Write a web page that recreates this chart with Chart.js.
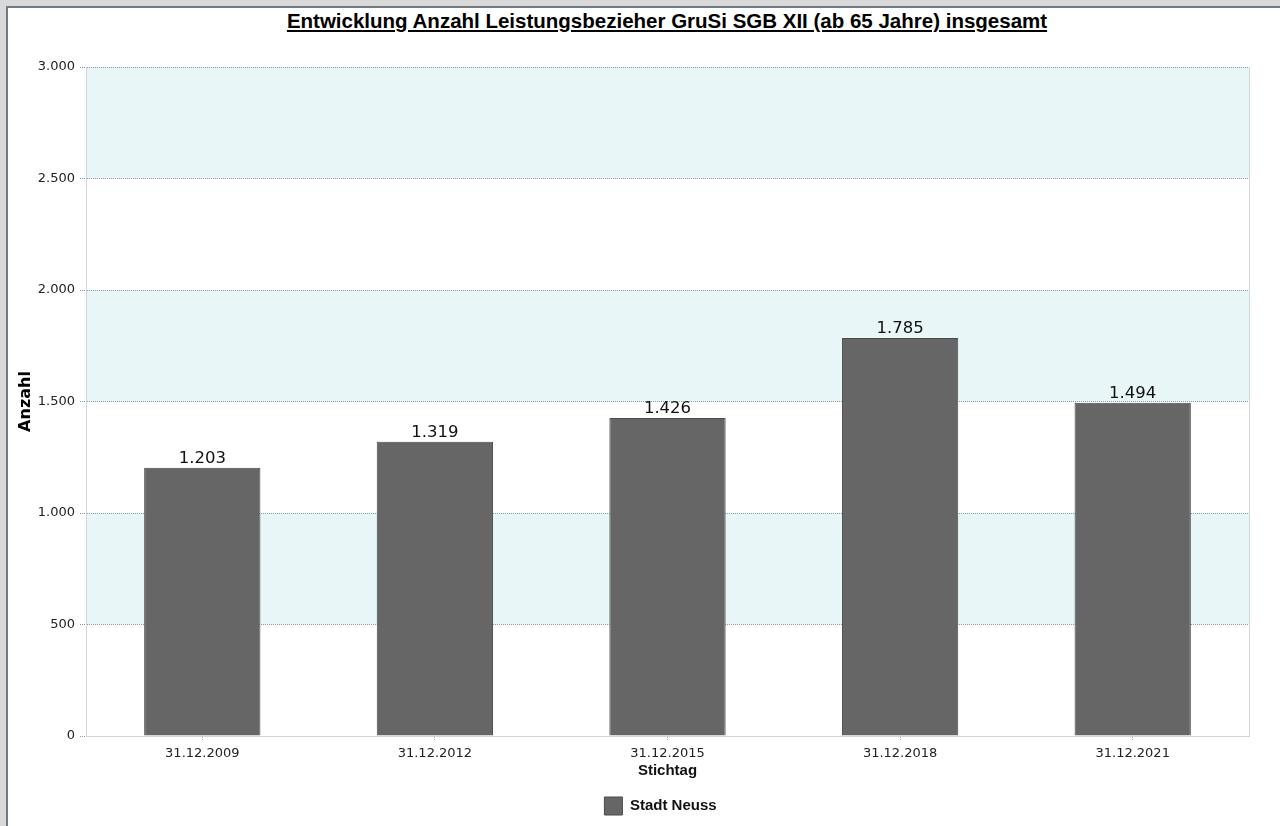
<!DOCTYPE html>
<html lang="de">
<head>
  <meta charset="UTF-8">
  <title>GruSi SGB XII</title>
  <script src="https://cdn.jsdelivr.net/npm/chart.js@4.4.0/dist/chart.umd.min.js"></script>
  <style>
    body { margin: 0; background: #d9d9d9; width: 1280px; height: 826px; overflow: hidden; position: relative; }
    #panel { position: absolute; left: 6px; top: 6px; width: 1274px; height: 820px; background: #fff;
      border-left: 2px solid #6f7a85; border-top: 2px solid #6f7a85; box-sizing: border-box; }
    #title { position: absolute; left: 0; top: 9px; width: 1334px; text-align: center;
      font: bold 20.5px "Liberation Sans", Arial, sans-serif; text-decoration: underline; color: #000; }
    canvas { position: absolute; left: 0; top: 0; }
  </style>
</head>
<body>
  <div id="panel"></div>
  <div id="title">Entwicklung Anzahl Leistungsbezieher GruSi SGB XII (ab 65 Jahre) insgesamt</div>
  <canvas id="chart" width="1280" height="826"></canvas>
  <script>
    // Stichtage und Anzahl Leistungsbezieher
    const stichtage = ['31.12.2009', '31.12.2012', '31.12.2015', '31.12.2018', '31.12.2021'];
    const anzahl = [1203, 1319, 1426, 1785, 1494];
    const yTicks = [0, 500, 1000, 1500, 2000, 2500, 3000];

    function fmt(v) {
      return String(v).replace(/\B(?=(\d{3})+(?!\d))/g, '.');
    }

    const tickFont = { family: '"DejaVu Sans", Verdana, sans-serif', size: 13 };
    const boldFont = { family: '"Liberation Sans", Arial, sans-serif', size: 15, weight: 'bold' };

    // abwechselnde Hintergrundbaender + Rahmen
    const bands = {
      id: 'bands',
      afterLayout(chart) {
        // Legende etwas nach rechts, wie im Original
        chart.legend.left += 32;
        chart.legend.right += 32;
      },
      beforeDraw(chart) {
        const { ctx, chartArea, scales: { y } } = chart;
        ctx.save();
        ctx.fillStyle = '#e8f6f7';
        for (let i = yTicks.length - 1; i > 0; i -= 2) {
          const top = y.getPixelForValue(yTicks[i]);
          const bottom = y.getPixelForValue(yTicks[i - 1]);
          ctx.fillRect(chartArea.left, top, chartArea.right - chartArea.left, bottom - top);
        }
        ctx.restore();
      },
      afterDraw(chart) {
        const { ctx, chartArea } = chart;
        ctx.save();
        ctx.strokeStyle = '#d2d6da';
        ctx.lineWidth = 1;
        ctx.beginPath();
        ctx.moveTo(chartArea.right + 0.5, chartArea.top);
        ctx.lineTo(chartArea.right + 0.5, chartArea.bottom);
        ctx.stroke();
        ctx.restore();
      }
    };

    const valueLabels = {
      id: 'valueLabels',
      afterDatasetsDraw(chart) {
        const { ctx } = chart;
        const meta = chart.getDatasetMeta(0);
        ctx.save();
        ctx.font = '16.5px "DejaVu Sans", Verdana, sans-serif';
        ctx.fillStyle = '#111';
        ctx.textAlign = 'center';
        ctx.textBaseline = 'bottom';
        meta.data.forEach((bar, i) => {
          ctx.fillText(fmt(anzahl[i]), bar.x, bar.y - 1);
        });
        ctx.restore();
      }
    };

    new Chart(document.getElementById('chart'), {
      type: 'bar',
      data: {
        labels: stichtage,
        datasets: [{
          label: 'Stadt Neuss',
          data: anzahl,
          backgroundColor: '#666666',
          borderColor: '#4a4a4a',
          borderWidth: 1,
          barPercentage: 0.5,
          categoryPercentage: 1
        }]
      },
      options: {
        responsive: false,
        animation: false,
        layout: { padding: { left: 8, right: 31, top: 67, bottom: 1 } },
        plugins: {
          title: { display: false },
          tooltip: { enabled: false },
          legend: {
            position: 'bottom',
            labels: {
              color: '#111',
              font: boldFont,
              boxWidth: 18,
              boxHeight: 18,
              padding: 12
            }
          }
        },
        scales: {
          x: {
            grid: { drawOnChartArea: false, offset: false, tickLength: 5, color: '#aaa', tickBorderDash: [1, 1] },
            border: { color: '#d2d6da' },
            ticks: { color: '#222', font: tickFont, padding: 5 },
            title: { display: true, text: 'Stichtag', color: '#111', font: boldFont, padding: { top: 1, bottom: 5 } },
            afterFit(scale) { scale.height = 49; }
          },
          y: {
            min: 0,
            max: 3000,
            afterBuildTicks(scale) { scale.ticks = yTicks.map(v => ({ value: v })); },
            afterFit(scale) { scale.width = 78; },
            grid: { color: '#8c9aa6', tickLength: 6, tickBorderDash: [1, 1] },
            border: { color: '#d2d6da', dash: [1, 1] },
            ticks: { color: '#222', font: tickFont, padding: 5, callback: v => fmt(v) },
            title: { display: true, text: 'Anzahl', color: '#000', font: { family: '"DejaVu Sans", Verdana, sans-serif', size: 16, weight: 'bold' }, padding: { top: 8, bottom: 6 } }
          }
        }
      },
      plugins: [bands, valueLabels]
    });
  </script>
</body>
</html>
